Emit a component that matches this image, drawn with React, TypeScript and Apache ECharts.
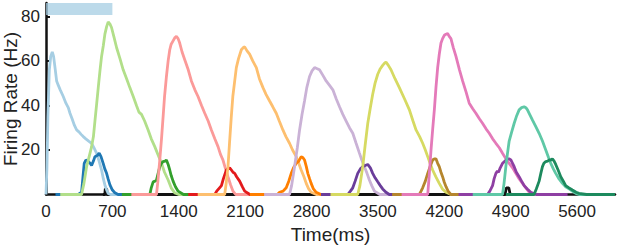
import React, { useEffect, useRef } from "react";
import * as echarts from "echarts";

const xTicks = [0, 700, 1400, 2100, 2800, 3500, 4200, 4900, 5600];
const yTicks = [20, 40, 60, 80];
const stimulusWindow = [0, 700];
const stimulusBand = [80.6, 86];

const blackMarks = [[600, 0], [620, 0], [625, 2.5], [640, 2.5], [645, 0], [4840, 0], [4855, 3], [4880, 3], [4895, 0], [4920, 0]];

const lightBlue = [[0,0],[10,12],[20,35],[35,56],[50,62],[66,64],[80,62],[95,57],[112,51],[130,49],[150,47],[182,44],[210,41],[235,39],[253,36.5],[275,34],[300,31],[323,29],[350,28],[370,27],[393,26],[420,25],[450,24],[481,23],[505,21],[533,18.6],[560,15],[586,11],[605,7],[621,4.3],[640,2],[656,0.5],[680,0],[1000,0]];
const blue = [[100,0],[340,0],[375,1],[390,8],[403,14],[420,15.5],[446,14.8],[465,14],[481,13],[500,15],[516,17],[540,17.5],[561,18.6],[580,17],[603,14],[620,11.5],[639,9.5],[655,7],[674,4.3],[700,2],[726,0.8],[760,0],[1000,0]];
const lightGreen = [[150,0],[375,0],[400,5],[428,12.5],[455,17],[481,21.5],[500,26],[516,33],[535,41],[551,48],[570,56],[586,62],[605,67],[621,72],[640,75.5],[656,77.5],[675,76.5],[691,75],[715,71],[744,66],[780,61],[814,56],[850,52],[884,48],[920,44],[954,40],[980,37],[1007,36],[1040,33],[1077,29],[1110,25],[1147,21.5],[1180,18],[1218,14],[1250,10],[1288,6.5],[1320,3],[1358,0.7],[1400,0],[1700,0]];
const green = [[800,0],[1095,0],[1110,3],[1130,5.7],[1150,6],[1165,6.5],[1185,10],[1200,12.5],[1218,14],[1235,14.8],[1255,15],[1270,15.5],[1288,13.5],[1305,11],[1320,8.5],[1340,6],[1365,3.5],[1393,1.5],[1450,0],[1750,0]];
const pink = [[900,0],[1165,0],[1180,6],[1200,15.5],[1218,25],[1235,35],[1250,44],[1270,53],[1288,60],[1305,65],[1320,67.5],[1340,69],[1360,70.5],[1375,71],[1393,70],[1410,68],[1435,64],[1463,60.5],[1500,56],[1533,51],[1570,47],[1603,44],[1640,40],[1674,36.5],[1710,33],[1744,29],[1780,25],[1814,21.5],[1840,18],[1866,15.5],[1890,12],[1919,8],[1945,4.5],[1972,1.5],[2000,0],[2300,0]];
const red = [[1500,0],[1780,0],[1800,1.5],[1830,3],[1850,4],[1870,7],[1902,11],[1920,11.5],[1937,12],[1955,11],[1972,10],[1990,9.5],[2010,8],[2042,6],[2070,3.5],[2095,1.5],[2150,0],[2450,0]];
const lightOrange = [[1600,0],[1884,0],[1900,5],[1919,12.5],[1935,23],[1954,35],[1970,44],[1990,51],[2007,57],[2030,61],[2060,65],[2080,66],[2095,66.3],[2120,64.5],[2147,63],[2180,60],[2218,57],[2250,52],[2288,48],[2320,45],[2358,42],[2390,39.5],[2428,36.5],[2460,33],[2498,29],[2530,26],[2568,23],[2600,20],[2639,17],[2665,14],[2691,11],[2720,8],[2744,5],[2770,2.5],[2796,1],[2850,0],[3150,0]];
const orange = [[2150,0],[2440,0],[2463,1],[2500,1.5],[2533,3],[2560,6],[2586,9.5],[2610,12],[2639,14],[2665,15],[2691,17],[2710,16.5],[2726,15.5],[2745,12.5],[2761,9.5],[2780,7],[2796,5],[2820,2.5],[2849,1],[2900,0],[3200,0]];
const lavender = [[2300,0],[2568,0],[2590,4],[2621,12.5],[2650,21],[2674,29],[2700,36],[2726,42],[2750,48],[2779,53],[2805,55.5],[2832,57],[2860,56.5],[2884,56],[2920,53.5],[2954,51],[2990,49],[3025,47],[3060,43],[3095,39.4],[3130,36],[3165,33],[3200,30],[3235,27.5],[3270,23],[3305,18.6],[3330,15.5],[3358,12.5],[3385,9.5],[3410,6.5],[3435,4],[3463,1.5],[3520,0],[3800,0]];
const purple = [[2900,0],[3182,0],[3210,1.5],[3235,3],[3260,6],[3287,9.5],[3315,11.5],[3340,12.5],[3365,13],[3393,13.5],[3420,12],[3445,9.5],[3470,7.5],[3498,5.7],[3525,4],[3550,2.5],[3585,1],[3620,0],[3900,0]];
const yellow = [[3000,0],[3287,0],[3310,4],[3340,12.5],[3365,22],[3393,32],[3420,39],[3445,45],[3470,50],[3498,54],[3525,56.5],[3550,58],[3570,59],[3585,59.5],[3610,58],[3638,56],[3680,52],[3726,48],[3780,43],[3832,38],[3870,33],[3902,29],[3940,26],[3972,23],[4000,20],[4025,17],[4050,14],[4077,11],[4110,8],[4147,5],[4180,2.5],[4218,1],[4270,0],[4550,0]];
const brown = [[3650,0],[3937,0],[3955,1.5],[3972,3],[4000,6],[4025,9.5],[4050,12.5],[4077,15.5],[4095,16],[4112,16],[4130,14],[4147,12.5],[4165,10],[4182,8],[4200,5.5],[4218,3.5],[4240,1.5],[4270,0],[4550,0]];
const magenta = [[3750,0],[4025,0],[4040,8],[4060,20],[4077,29],[4095,38],[4112,48],[4130,57],[4147,63],[4165,68],[4182,70],[4200,71.5],[4218,72],[4235,72.3],[4252,71],[4270,70],[4295,66],[4323,62],[4360,56],[4393,51],[4430,46],[4463,41],[4500,38.5],[4533,36.5],[4570,34],[4603,32],[4640,29.5],[4674,27.5],[4710,25],[4744,23],[4780,21],[4814,18.5],[4850,16],[4884,14],[4920,12],[4954,9.5],[4990,7],[5025,5],[5060,3],[5095,1],[5150,0],[5450,0]];
const violet = [[4350,0],[4656,0],[4680,1.5],[4709,4],[4725,7],[4744,9.5],[4760,10.5],[4772,10],[4790,12],[4814,14],[4840,15],[4867,16],[4885,16],[4902,15.5],[4920,14],[4937,12.5],[4960,10],[4989,8],[5015,6],[5042,4],[5075,2.5],[5112,1],[5170,0],[5500,0]];
const mint = [[4500,0],[4814,0],[4830,5],[4849,12.5],[4865,18],[4884,24],[4910,28],[4937,32],[4960,35],[4989,38],[5015,39],[5042,39.4],[5060,39],[5077,38],[5100,36],[5130,33.4],[5165,30.5],[5200,27.5],[5235,24],[5270,20],[5300,16.5],[5323,14],[5350,11.5],[5375,9.5],[5410,7],[5446,5],[5480,3.5],[5516,2.5],[5550,1.5],[5586,0.5],[5620,0],[6000,0]];
const darkGreen = [[4850,0],[5147,0],[5170,2.5],[5200,6],[5218,9.5],[5235,12.5],[5250,14],[5270,14.8],[5290,15],[5305,15.5],[5322,15.5],[5340,16],[5358,15],[5375,13.5],[5400,11],[5428,8],[5455,6],[5480,4],[5515,3],[5551,2],[5590,1],[5620,0.5],[5700,0],[6000,0]];

const seriesList: [string, number[][], string][] = [
  ["black", blackMarks, "#111111"],
  ["s1", lightBlue, "#a6cee3"],
  ["s2", blue, "#1f78b4"],
  ["s3", lightGreen, "#b2df8a"],
  ["s4", green, "#33a02c"],
  ["s5", pink, "#fb9a99"],
  ["s6", red, "#e31a1c"],
  ["s7", lightOrange, "#fdbf6f"],
  ["s8", orange, "#ff7f00"],
  ["s9", lavender, "#cab2d6"],
  ["s10", purple, "#6a3d9a"],
  ["s11", yellow, "#d6da62"],
  ["s12", brown, "#b5862d"],
  ["s13", magenta, "#e47ab9"],
  ["s14", violet, "#8e3fa3"],
  ["s15", mint, "#5fc8a6"],
  ["s16", darkGreen, "#1d8a5e"],
];

const FONT = "'Liberation Sans', Arial, Helvetica, sans-serif";
const yAxisTitle = "Firing Rate (Hz)";
const xAxisTitle = "Time(ms)";

export default function App() {
  const ref = useRef<HTMLDivElement>(null);
  useEffect(() => {
    document.body.style.margin = "0";
    const chart = echarts.init(ref.current!, null, { renderer: "svg" });
    const series: any[] = seriesList.map(([name, data, color], i) => ({
      name,
      type: "line",
      data,
      showSymbol: false,
      symbol: "none",
      lineStyle: { color, width: 2.8 },
      itemStyle: { color },
      z: 2 + i * 0.01,
      ...(name === "s1"
        ? {
            markArea: {
              silent: true,
              itemStyle: { color: "#a6cee3", opacity: 0.75 },
              data: [[
                { xAxis: stimulusWindow[0], yAxis: stimulusBand[0] },
                { xAxis: stimulusWindow[1], yAxis: stimulusBand[1] },
              ]],
            },
          }
        : {}),
    }));
    chart.setOption({
      animation: false,
      grid: { left: 46, right: 2, top: 3, height: 191.5, containLabel: false, outerBoundsMode: "none" },
      graphic: [
        {
          type: "text",
          x: 10.5,
          y: 99,
          rotation: Math.PI / 2,
          style: {
            text: yAxisTitle,
            fontSize: 19,
            fill: "#222",
            fontFamily: FONT,
            align: "center",
            verticalAlign: "middle",
          },
        },
      ],
      xAxis: {
        type: "value",
        min: 0,
        max: 6000,
        interval: 700,
        name: xAxisTitle,
        nameLocation: "middle",
        nameGap: 30,
        nameTextStyle: { fontSize: 19, color: "#222", fontFamily: FONT },
        axisLine: { show: true, lineStyle: { color: "#111", width: 2.5 } },
        axisTick: { show: false },
        splitLine: { show: false },
        axisLabel: {
          customValues: xTicks,
          formatter: (v: number) => String(v),
          fontSize: 17,
          color: "#222",
          fontFamily: FONT,
          margin: 8,
          hideOverlap: false,
        },
      },
      yAxis: {
        type: "value",
        min: 0,
        max: 86,
        interval: 20,
        axisLine: { show: true, lineStyle: { color: "#111", width: 2.5 } },
        axisTick: {
          show: true,
          inside: true,
          length: 4,
          customValues: yTicks,
          lineStyle: { color: "#111", width: 2 },
        },
        splitLine: { show: false },
        axisLabel: {
          customValues: yTicks,
          formatter: (v: number) => String(v),
          fontSize: 17,
          color: "#222",
          fontFamily: FONT,
          margin: 6,
        },
      },
      series,
    });
    return () => chart.dispose();
  }, []);
  return <div ref={ref} style={{ width: 617, height: 245 }} />;
}
